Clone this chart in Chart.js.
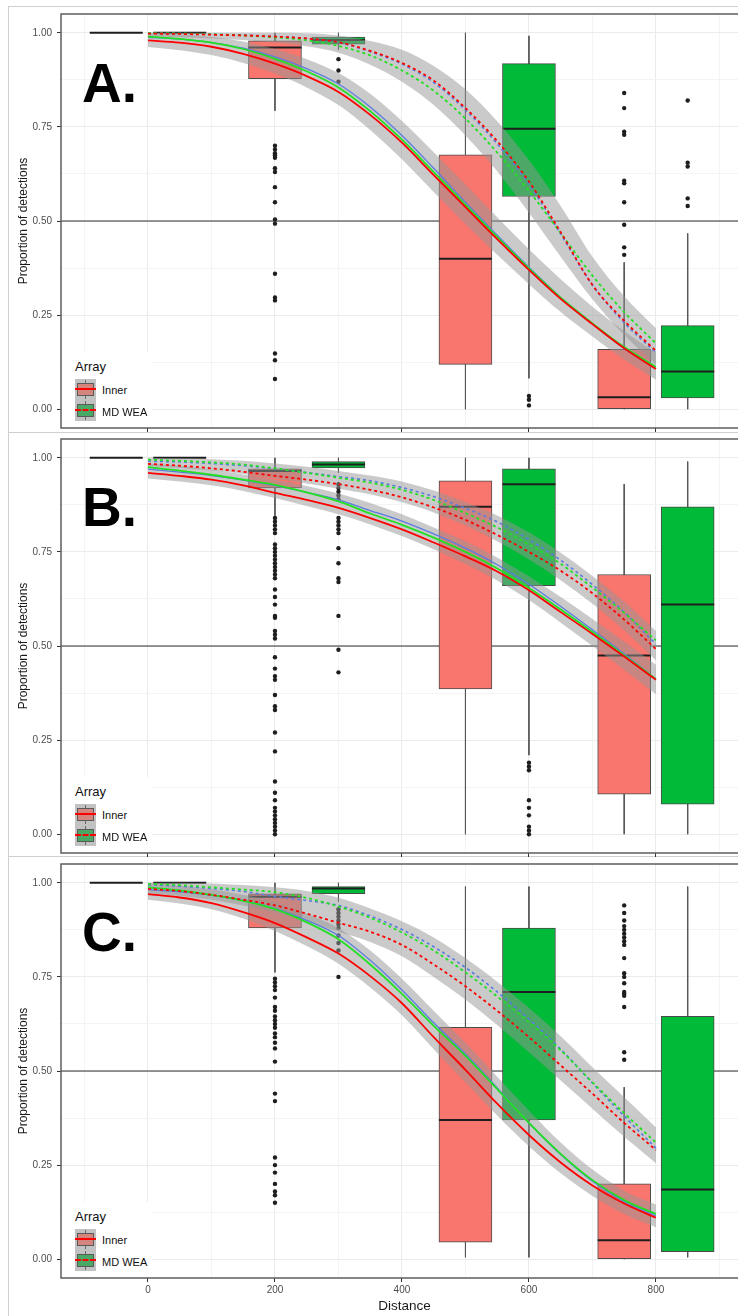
<!DOCTYPE html>
<html>
<head>
<meta charset="utf-8">
<script src="https://cdn.jsdelivr.net/npm/chart.js@4.4.1/dist/chart.umd.min.js"></script>
<style>
html,body{margin:0;padding:0;background:#fff;}
#page{position:relative;width:738px;height:1316px;overflow:hidden;background:#fff;font-family:"Liberation Sans",Arial,sans-serif;}
.frame{position:absolute;left:8px;width:780px;border:1px solid #d0d0d0;box-sizing:border-box;}
canvas{position:absolute;left:0;}
.tag{position:absolute;left:82px;font-weight:bold;font-size:55px;line-height:55px;color:#000;}
.legend{position:absolute;left:62px;width:90px;height:75px;background:#fff;}
.lt{position:absolute;left:13px;top:8px;font-size:13px;line-height:14px;color:#111;}
.key{position:absolute;left:13px;width:21px;height:21px;background:#c2c2c2;}
.wk{position:absolute;left:10px;top:1px;width:1px;height:19px;background:#6a6a6a;}
.kb{position:absolute;left:2px;top:4px;width:15px;height:11px;border:1px solid #5a5a5a;}
.kl{position:absolute;left:0;top:9px;width:21px;height:0;border-top:2px solid #f00;}
.kl.dash{border-top:2px dashed #f00;}
.kt{position:absolute;left:40px;font-size:11px;line-height:12px;color:#111;white-space:nowrap;}
</style>
</head>
<body>
<div id="page">
  <div class="frame" style="top:6px;height:427px"></div>
  <div class="frame" style="top:432px;height:425px"></div>
  <div class="frame" style="top:856px;height:480px"></div>
  <canvas id="chartA" width="760" height="440" style="top:0px"></canvas>
  <canvas id="chartB" width="760" height="437" style="top:428px"></canvas>
  <canvas id="chartC" width="760" height="464" style="top:852px"></canvas>
</div>
<script>
// ---- shared axes ----
const xMin = -137, xMax = 945;
const yMin = -0.05, yMax = 1.05;
const xGrid = [-100, 0, 100, 200, 300, 400, 500, 600, 700, 800, 900];
const xLabelled = [0, 200, 400, 600, 800];
const yGrid = [0, 0.125, 0.25, 0.375, 0.5, 0.625, 0.75, 0.875, 1];
const yLabelled = [0, 0.25, 0.5, 0.75, 1];
const refLine = 0.5;

// ---- box positions (Inner / MD WEA) ----
const innerX = [-50, 200, 500, 750];
const weaX = [50, 300, 600, 850];

// ---- fitted curves, evaluated along distance ----
const curveX = [0, 50, 100, 150, 200, 250, 300, 350, 400, 450, 500, 550, 600, 650, 700, 750, 800];

// Panel A
const aRed    = [0.980,0.974,0.963,0.944,0.918,0.885,0.843,0.782,0.708,0.622,0.537,0.452,0.370,0.293,0.226,0.162,0.107];
const aGreen  = [0.990,0.984,0.974,0.957,0.931,0.898,0.855,0.792,0.716,0.630,0.543,0.457,0.374,0.296,0.228,0.165,0.112];
const aBlue   = [0.988,0.983,0.974,0.959,0.936,0.905,0.864,0.803,0.727,0.640,0.550,0.462,0.377,0.297,0.227,0.161,0.108];
const aRedD   = [0.998,0.997,0.995,0.993,0.990,0.985,0.975,0.952,0.920,0.873,0.800,0.712,0.605,0.470,0.330,0.235,0.155];
const aGreenD = [0.999,0.998,0.996,0.993,0.988,0.980,0.965,0.940,0.900,0.846,0.772,0.682,0.580,0.468,0.355,0.258,0.175];
const aBlueD  = [0.999,0.998,0.996,0.994,0.990,0.985,0.974,0.950,0.917,0.868,0.795,0.705,0.598,0.465,0.330,0.230,0.150];
const aBandSLo = [0.962,0.954,0.941,0.920,0.892,0.855,0.808,0.742,0.664,0.577,0.492,0.410,0.332,0.258,0.193,0.132,0.078];
const aBandSHi = [1.000,0.996,0.989,0.977,0.957,0.930,0.893,0.838,0.766,0.683,0.597,0.510,0.425,0.345,0.272,0.207,0.150];
const aBandDLo = [0.990,0.988,0.985,0.981,0.974,0.964,0.947,0.915,0.870,0.808,0.727,0.632,0.522,0.405,0.292,0.197,0.118];
const aBandDHi = [1.000,1.000,1.000,1.000,1.000,0.999,0.993,0.978,0.955,0.912,0.850,0.765,0.662,0.540,0.405,0.300,0.215];
const aInnerQ1  = [1.000, 0.878, 0.119, 0.000];
const aInnerMed = [1.000, 0.961, 0.400, 0.032];
const aInnerQ3  = [1.000, 0.979, 0.676, 0.159];
const aInnerLo  = [1.000, 0.793, 0.000, 0.000];
const aInnerHi  = [1.000, 1.000, 1.000, 0.390];
const aWeaQ1  = [1.000, 0.970, 0.565, 0.030];
const aWeaMed = [1.000, 0.981, 0.745, 0.100];
const aWeaQ3  = [1.000, 0.989, 0.918, 0.222];
const aWeaLo  = [1.000, 0.955, 0.082, 0.000];
const aWeaHi  = [1.000, 1.000, 0.992, 0.467];
const aInnerOut = [[], [0.70,0.69,0.68,0.675,0.668,0.64,0.63,0.59,0.55,0.504,0.493,0.36,0.297,0.289,0.148,0.13,0.08], [], [0.84,0.80,0.737,0.729,0.607,0.60,0.55,0.49,0.43,0.41]];
const aWeaOut   = [[], [0.93,0.90,0.87], [0.035,0.025,0.01], [0.82,0.655,0.645,0.56,0.54]];

// Panel B
const bRed    = [0.960,0.952,0.942,0.927,0.907,0.888,0.867,0.840,0.810,0.775,0.738,0.698,0.648,0.590,0.532,0.472,0.410];
const bGreen  = [0.975,0.966,0.955,0.942,0.928,0.908,0.884,0.852,0.822,0.788,0.750,0.706,0.654,0.597,0.537,0.475,0.412];
const bBlue   = [0.970,0.962,0.953,0.941,0.926,0.908,0.888,0.860,0.832,0.798,0.760,0.716,0.664,0.605,0.543,0.479,0.412];
const bRedD   = [0.984,0.979,0.972,0.963,0.952,0.942,0.930,0.915,0.895,0.868,0.835,0.795,0.750,0.700,0.640,0.570,0.492];
const bGreenD = [0.995,0.992,0.988,0.982,0.972,0.960,0.947,0.934,0.915,0.888,0.853,0.815,0.770,0.718,0.655,0.588,0.515];
const bBlueD  = [0.991,0.989,0.985,0.979,0.971,0.961,0.950,0.939,0.921,0.897,0.866,0.830,0.783,0.728,0.663,0.590,0.505];
const bBandSLo = [0.945,0.937,0.927,0.912,0.893,0.872,0.850,0.823,0.792,0.757,0.718,0.674,0.622,0.562,0.500,0.437,0.372];
const bBandSHi = [0.985,0.978,0.968,0.956,0.942,0.925,0.905,0.880,0.850,0.815,0.778,0.735,0.685,0.630,0.572,0.512,0.450];
const bBandDLo = [0.978,0.973,0.966,0.957,0.945,0.932,0.918,0.903,0.882,0.855,0.820,0.778,0.730,0.675,0.612,0.542,0.462];
const bBandDHi = [1.000,0.998,0.996,0.992,0.985,0.976,0.965,0.953,0.937,0.913,0.882,0.847,0.802,0.748,0.686,0.618,0.540];
const bInnerQ1  = [1.000, 0.920, 0.386, 0.106];
const bInnerMed = [1.000, 0.965, 0.870, 0.475];
const bInnerQ3  = [1.000, 0.971, 0.939, 0.690];
const bInnerLo  = [1.000, 0.846, 0.000, 0.000];
const bInnerHi  = [1.000, 1.000, 1.000, 0.930];
const bWeaQ1  = [1.000, 0.973, 0.660, 0.080];
const bWeaMed = [1.000, 0.982, 0.930, 0.610];
const bWeaQ3  = [1.000, 0.990, 0.971, 0.870];
const bWeaLo  = [1.000, 0.960, 0.210, 0.000];
const bWeaHi  = [1.000, 1.000, 1.000, 0.990];
const bInnerOut = [[], [0.84,0.83,0.82,0.81,0.80,0.77,0.76,0.75,0.74,0.73,0.72,0.71,0.70,0.69,0.68,0.65,0.63,0.61,0.58,0.575,0.54,0.53,0.52,0.47,0.44,0.42,0.41,0.37,0.34,0.33,0.27,0.22,0.14,0.11,0.09,0.07,0.06,0.05,0.04,0.03,0.02,0.01,0.0], [], []];
const bWeaOut   = [[], [0.93,0.92,0.91,0.90,0.89,0.84,0.83,0.82,0.81,0.80,0.76,0.72,0.68,0.67,0.58,0.49,0.43], [0.19,0.18,0.17,0.09,0.07,0.05,0.02,0.01,0.0], []];

// Panel C
const cRed    = [0.970,0.961,0.946,0.922,0.893,0.855,0.812,0.752,0.680,0.590,0.503,0.413,0.330,0.257,0.196,0.148,0.110];
const cGreen  = [0.988,0.980,0.968,0.952,0.930,0.895,0.850,0.783,0.705,0.620,0.540,0.452,0.362,0.280,0.210,0.157,0.120];
const cBlue   = [0.982,0.976,0.967,0.953,0.932,0.900,0.860,0.794,0.715,0.628,0.545,0.455,0.362,0.278,0.207,0.153,0.115];
const cRedD   = [0.984,0.978,0.968,0.955,0.940,0.918,0.894,0.870,0.835,0.783,0.725,0.660,0.590,0.515,0.440,0.362,0.290];
const cGreenD = [0.997,0.994,0.988,0.982,0.975,0.960,0.937,0.907,0.868,0.820,0.762,0.698,0.630,0.555,0.470,0.388,0.310];
const cBlueD  = [0.995,0.991,0.985,0.977,0.964,0.953,0.940,0.912,0.876,0.830,0.775,0.710,0.638,0.558,0.468,0.380,0.295];
const cBandSLo = [0.955,0.945,0.930,0.905,0.872,0.832,0.785,0.722,0.648,0.558,0.470,0.382,0.300,0.228,0.168,0.120,0.085];
const cBandSHi = [1.000,0.993,0.983,0.968,0.948,0.918,0.880,0.820,0.745,0.660,0.575,0.485,0.395,0.310,0.238,0.182,0.145];
const cBandDLo = [0.972,0.965,0.955,0.940,0.922,0.898,0.870,0.843,0.805,0.750,0.690,0.622,0.550,0.475,0.400,0.325,0.255];
const cBandDHi = [1.000,1.000,0.998,0.994,0.988,0.978,0.960,0.932,0.898,0.855,0.800,0.737,0.668,0.592,0.510,0.430,0.350];
const cInnerQ1  = [1.000, 0.880, 0.045, 0.000];
const cInnerMed = [1.000, 0.963, 0.370, 0.050];
const cInnerQ3  = [1.000, 0.971, 0.616, 0.200];
const cInnerLo  = [1.000, 0.762, 0.005, 0.000];
const cInnerHi  = [1.000, 1.000, 0.990, 0.457];
const cWeaQ1  = [1.000, 0.971, 0.370, 0.020];
const cWeaMed = [1.000, 0.985, 0.710, 0.185];
const cWeaQ3  = [1.000, 0.990, 0.880, 0.645];
const cWeaLo  = [1.000, 0.950, 0.005, 0.005];
const cWeaHi  = [1.000, 1.000, 0.990, 0.990];
const cInnerOut = [[], [0.745,0.735,0.725,0.715,0.695,0.67,0.66,0.645,0.635,0.625,0.615,0.60,0.59,0.575,0.56,0.525,0.44,0.42,0.27,0.25,0.23,0.20,0.18,0.17,0.15], [], [0.94,0.92,0.90,0.885,0.875,0.865,0.855,0.845,0.835,0.80,0.76,0.75,0.733,0.71,0.705,0.70,0.67,0.55,0.53]];
const cWeaOut   = [[], [0.93,0.92,0.91,0.90,0.89,0.88,0.86,0.84,0.82,0.75], [], []];

// ---- colours ----
const innerFill = '#F8766D';
const weaFill = '#00BA38';
const lineRed = '#FF0000', lineGreen = '#22E022', lineBlue = '#5B7BE0';
const ribbon = 'rgba(150,150,150,0.5)';
const fontFamily = '"Liberation Sans", Arial, sans-serif';

const pts = (xs, ys) => xs.map((x, i) => ({x, y: ys[i]}));
const whiskers = (xs, lo, hi) => xs.flatMap((x, i) => [{x, y: hi[i]}, {x, y: lo[i]}, {x, y: null}]);
const outliers = (xs, groups) => xs.flatMap((x, i) => groups[i].map(y => ({x, y})));
const isMajorX = v => xLabelled.includes(v);
const isMajorY = v => yLabelled.some(t => Math.abs(t - v) < 1e-9);
const tickVal = c => (c && c.tick) ? c.tick.value : null;

// panel border on top, left and bottom
const framePlugin = {
  id: 'panelFrame',
  afterDraw(chart) {
    const {ctx, chartArea: a} = chart;
    ctx.save();
    ctx.strokeStyle = '#5e5e5e';
    ctx.lineWidth = 1.5;
    ctx.beginPath();
    ctx.moveTo(a.right + 20, a.top);
    ctx.lineTo(a.left, a.top);
    ctx.lineTo(a.left, a.bottom);
    ctx.lineTo(a.right + 20, a.bottom);
    ctx.stroke();
    ctx.restore();
  }
};

function curve(data, color, width, dashed, order) {
  return {type: 'line', data: pts(curveX, data), borderColor: color, borderWidth: width,
    borderDash: dashed ? [3, 3] : [], pointRadius: 0, fill: false,
    cubicInterpolationMode: 'monotone', order};
}
function band(lo, hi) {
  return [
    {type: 'line', data: pts(curveX, lo), borderColor: 'rgba(0,0,0,0)', borderWidth: 0, pointRadius: 0,
      fill: false, cubicInterpolationMode: 'monotone', order: 5},
    {type: 'line', data: pts(curveX, hi), borderColor: 'rgba(0,0,0,0)', borderWidth: 0, pointRadius: 0,
      fill: '-1', backgroundColor: ribbon, cubicInterpolationMode: 'monotone', order: 5}
  ];
}
function boxes(xs, q1, q3, fill) {
  return {type: 'bar', data: xs.map((x, i) => ({x, y: [q1[i], q3[i]]})), backgroundColor: fill,
    borderColor: '#4a4a4a', borderWidth: 1, borderSkipped: false, barThickness: 53, grouped: false, order: 7};
}
function medians(xs, med) {
  return {type: 'scatter', data: pts(xs, med), pointStyle: 'line', pointRadius: 26.5,
    pointBorderColor: '#1e1e1e', pointBorderWidth: 2, order: 6};
}

function makePanel(id, p, cfg) {
  const datasets = [
    {type: 'line', data: [{x: xMin, y: refLine}, {x: xMax, y: refLine}], borderColor: '#2e2e2e',
      borderWidth: 1, pointRadius: 0, fill: false, order: 9},
    {type: 'line', data: whiskers(innerX, p.innerLo, p.innerHi), borderColor: '#555', borderWidth: 1,
      pointRadius: 0, fill: false, spanGaps: false, order: 8},
    {type: 'line', data: whiskers(weaX, p.weaLo, p.weaHi), borderColor: '#555', borderWidth: 1,
      pointRadius: 0, fill: false, spanGaps: false, order: 8},
    boxes(innerX, p.innerQ1, p.innerQ3, innerFill),
    boxes(weaX, p.weaQ1, p.weaQ3, weaFill),
    medians(innerX, p.innerMed),
    medians(weaX, p.weaMed),
    {type: 'scatter', data: outliers(innerX, p.innerOut), pointRadius: 2.2,
      pointBackgroundColor: '#1e1e1e', pointBorderWidth: 0, order: 6},
    {type: 'scatter', data: outliers(weaX, p.weaOut), pointRadius: 2.2,
      pointBackgroundColor: '#1e1e1e', pointBorderWidth: 0, order: 6},
    ...band(p.bandSLo, p.bandSHi),
    ...band(p.bandDLo, p.bandDHi),
    curve(p.blueD, lineBlue, 1.6, true, 3),
    curve(p.greenD, lineGreen, 1.8, true, 2),
    curve(p.redD, lineRed, 1.8, true, 1),
    curve(p.blue, lineBlue, 1.3, false, 3),
    curve(p.green, lineGreen, 1.8, false, 2),
    curve(p.red, lineRed, 1.8, false, 1)
  ];

  new Chart(document.getElementById(id), {
    type: 'line',
    data: {datasets},
    plugins: [framePlugin],
    options: {
      responsive: false, animation: false, events: [], devicePixelRatio: 1,
      layout: {autoPadding: false, padding: {top: cfg.padTop, right: 12, bottom: 0, left: 0}},
      plugins: {legend: {display: false}, tooltip: {enabled: false}},
      scales: {
        x: {
          type: 'linear', min: xMin, max: xMax, offset: false,
          afterBuildTicks: s => { s.ticks = xGrid.map(v => ({value: v})); },
          afterFit: s => { s.height = cfg.xHeight; },
          ticks: {autoSkip: false, maxRotation: 0, padding: 2, color: '#4d4d4d',
            font: {family: fontFamily, size: 10},
            callback: v => (cfg.xLabels && isMajorX(v)) ? String(v) : ''},
          grid: {offset: false, color: c => isMajorX(tickVal(c)) ? '#ebebeb' : '#f4f4f4', lineWidth: 1,
            tickLength: 4, tickColor: c => isMajorX(tickVal(c)) ? '#333' : 'rgba(0,0,0,0)'},
          border: {display: false},
          title: {display: cfg.xLabels, text: 'Distance', color: '#1a1a1a',
            font: {family: fontFamily, size: 13.5}, padding: {top: 0, bottom: 2}}
        },
        y: {
          type: 'linear', min: yMin, max: yMax,
          afterBuildTicks: s => { s.ticks = yGrid.map(v => ({value: v})); },
          afterFit: s => { s.width = 61; },
          ticks: {autoSkip: false, padding: 5, color: '#4d4d4d', font: {family: fontFamily, size: 10},
            callback: v => isMajorY(v) ? v.toFixed(2) : ''},
          grid: {offset: false, color: c => isMajorY(tickVal(c)) ? '#ebebeb' : '#f4f4f4', lineWidth: 1,
            tickLength: 4, tickColor: c => isMajorY(tickVal(c)) ? '#333' : 'rgba(0,0,0,0)'},
          border: {display: false},
          title: {display: true, text: 'Proportion of detections', color: '#1a1a1a',
            font: {family: fontFamily, size: 12}, padding: {top: 16, bottom: 0}}
        }
      }
    }
  });
}

function safePanel(id, p, cfg) {
  try { makePanel(id, p, cfg); } catch (e) { console.error(e); }
}

safePanel('chartA', {
  red: aRed, green: aGreen, blue: aBlue, redD: aRedD, greenD: aGreenD, blueD: aBlueD,
  bandSLo: aBandSLo, bandSHi: aBandSHi, bandDLo: aBandDLo, bandDHi: aBandDHi,
  innerQ1: aInnerQ1, innerMed: aInnerMed, innerQ3: aInnerQ3, innerLo: aInnerLo, innerHi: aInnerHi,
  weaQ1: aWeaQ1, weaMed: aWeaMed, weaQ3: aWeaQ3, weaLo: aWeaLo, weaHi: aWeaHi,
  innerOut: aInnerOut, weaOut: aWeaOut
}, {padTop: 14, xHeight: 12, xLabels: false});

safePanel('chartB', {
  red: bRed, green: bGreen, blue: bBlue, redD: bRedD, greenD: bGreenD, blueD: bBlueD,
  bandSLo: bBandSLo, bandSHi: bBandSHi, bandDLo: bBandDLo, bandDHi: bBandDHi,
  innerQ1: bInnerQ1, innerMed: bInnerMed, innerQ3: bInnerQ3, innerLo: bInnerLo, innerHi: bInnerHi,
  weaQ1: bWeaQ1, weaMed: bWeaMed, weaQ3: bWeaQ3, weaLo: bWeaLo, weaHi: bWeaHi,
  innerOut: bInnerOut, weaOut: bWeaOut
}, {padTop: 10, xHeight: 12, xLabels: false});

safePanel('chartC', {
  red: cRed, green: cGreen, blue: cBlue, redD: cRedD, greenD: cGreenD, blueD: cBlueD,
  bandSLo: cBandSLo, bandSHi: cBandSHi, bandDLo: cBandDLo, bandDHi: cBandDHi,
  innerQ1: cInnerQ1, innerMed: cInnerMed, innerQ3: cInnerQ3, innerLo: cInnerLo, innerHi: cInnerHi,
  weaQ1: cWeaQ1, weaMed: cWeaMed, weaQ3: cWeaQ3, weaLo: cWeaLo, weaHi: cWeaHi,
  innerOut: cInnerOut, weaOut: cWeaOut
}, {padTop: 12, xHeight: 38, xLabels: true});

// panel tags and in-panel legends
const page = document.getElementById('page');
[['A.', 56, 0], ['B.', 480, 425], ['C.', 905, 850]].forEach(([txt, top, dy]) => {
  const t = document.createElement('div');
  t.className = 'tag';
  t.style.top = top + 'px';
  t.textContent = txt;
  page.appendChild(t);

  const lg = document.createElement('div');
  lg.className = 'legend';
  lg.style.top = (352 + dy) + 'px';
  lg.innerHTML =
    '<div class="lt">Array</div>' +
    '<div class="key" style="top:27px"><div class="wk"></div><div class="kb" style="background:#d4857e"></div><div class="kl"></div></div>' +
    '<div class="kt" style="top:32px">Inner</div>' +
    '<div class="key" style="top:48px"><div class="wk"></div><div class="kb" style="background:#4aa866"></div><div class="kl dash"></div></div>' +
    '<div class="kt" style="top:54px">MD WEA</div>';
  page.appendChild(lg);
});
</script>
</body>
</html>
